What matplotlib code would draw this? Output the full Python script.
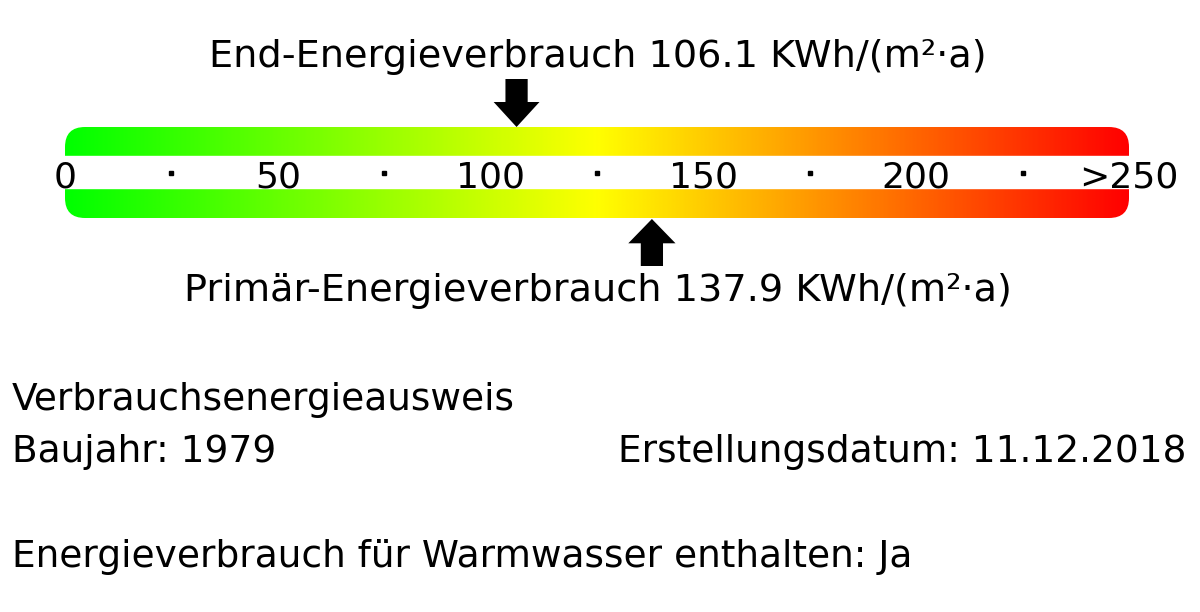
import numpy as np
import matplotlib
matplotlib.use("Agg")
import matplotlib.pyplot as plt
from matplotlib.colors import LinearSegmentedColormap
from matplotlib.patches import FancyBboxPatch, Rectangle, FancyArrowPatch, ArrowStyle

# scale and values
scale_max = 250
tick_vals = [0, 50, 100, 150, 200, 250]
tick_labels = ["0", "50", "100", "150", "200", ">250"]
dot_vals = [25, 75, 125, 175, 225]
end_value = 106.1
prim_value = 137.9
end_label = "End-Energieverbrauch 106.1 KWh/(m²·a)"
prim_label = "Primär-Energieverbrauch 137.9 KWh/(m²·a)"
info_title = "Verbrauchsenergieausweis"
baujahr = "Baujahr: 1979"
datum = "Erstellungsdatum: 11.12.2018"
warmwasser = "Energieverbrauch für Warmwasser enthalten: Ja"

W, H = 1200, 612
bar_x0, bar_x1 = 65, 1129  # pixel position of 0 and 250
px_per_unit = (bar_x1 - bar_x0) / scale_max

fig = plt.figure(figsize=(W / 100, H / 100), dpi=100)
ax = fig.add_axes([0, 0, 1, 1])
ax.set_xlim(-bar_x0 / px_per_unit, (W - bar_x0) / px_per_unit)
ax.set_ylim(H, 0)
ax.axis("off")

def px(x):
    # horizontal pixel -> data units (for the free text only)
    return (x - bar_x0) / px_per_unit

# gradient bar (green -> yellow -> red), clipped to a rounded box
cmap = LinearSegmentedColormap.from_list("ee", ["#00ff00", "#ffff00", "#ff0000"])
grad = np.linspace(0, 1, 512).reshape(1, -1)
box = FancyBboxPatch((0, 127), scale_max, 91,
                     boxstyle="round,pad=0,rounding_size=%f" % (20 / px_per_unit),
                     mutation_aspect=px_per_unit, fill=False, lw=0)
ax.add_patch(box)
im = ax.imshow(grad, cmap=cmap, aspect="auto", extent=(0, scale_max, 218, 127),
               interpolation="bilinear")
im.set_clip_path(box)
# white strip in the middle holding the scale labels
ax.add_patch(Rectangle((-5, 156), scale_max + 10, 32, color="white", zorder=2))

for v, lab in zip(tick_vals, tick_labels):
    ax.text(v, 188, lab, ha="center", va="baseline", fontsize=26, zorder=3)
ax.plot(dot_vals, [173] * len(dot_vals), "s", color="black", markersize=3, zorder=3)

# arrows
down = ArrowStyle("Simple", head_length=18, head_width=33, tail_width=16)
ax.add_patch(FancyArrowPatch((end_value, 79), (end_value, 127), arrowstyle=down,
                             mutation_scale=1, color="black", shrinkA=0, shrinkB=0, lw=0))
up = ArrowStyle("Simple", head_length=17.5, head_width=34, tail_width=16)
ax.add_patch(FancyArrowPatch((prim_value, 266), (prim_value, 219), arrowstyle=up,
                             mutation_scale=1, color="black", shrinkA=0, shrinkB=0, lw=0))

ax.text(px(598), 67, end_label, ha="center", va="baseline", fontsize=27.5)
ax.text(px(598), 301, prim_label, ha="center", va="baseline", fontsize=27.5)

ax.text(px(12), 410, info_title, ha="left", va="baseline", fontsize=27)
ax.text(px(12), 462, baujahr, ha="left", va="baseline", fontsize=27)
ax.text(px(1186), 462, datum, ha="right", va="baseline", fontsize=27)
ax.text(px(12), 567, warmwasser, ha="left", va="baseline", fontsize=27)

fig.savefig("out.png", dpi=100)
